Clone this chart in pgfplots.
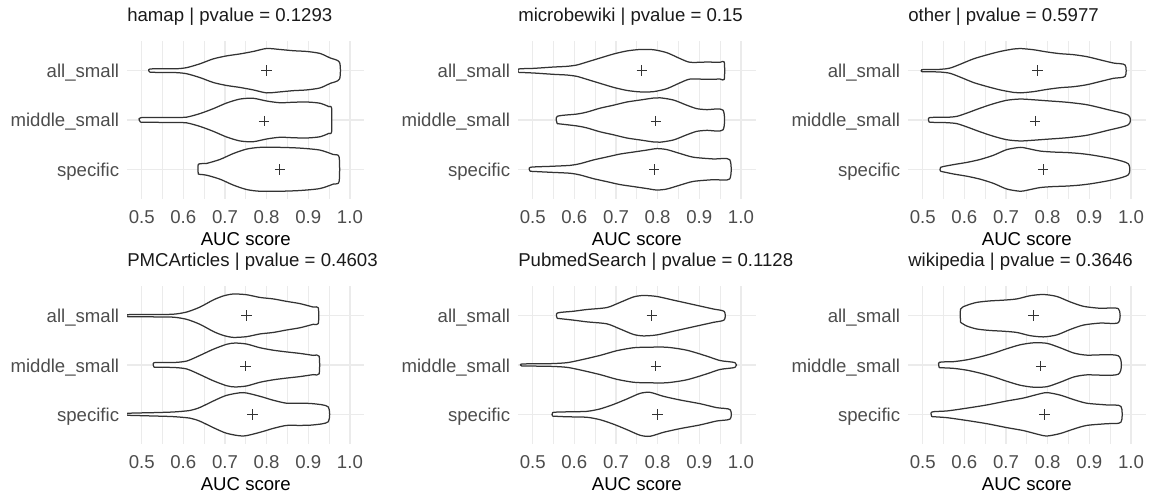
\documentclass[border=0pt]{standalone}
\usepackage{fontspec}
\setmainfont{Liberation Sans}
\usepackage{pgfplots}
\pgfplotsset{compat=1.18}
\usepackage{pgfplotstable}
\definecolor{gridc}{HTML}{EBEBEB}
\definecolor{tickc}{HTML}{4D4D4D}
\definecolor{vline}{HTML}{333333}
\definecolor{stripc}{HTML}{1A1A1A}
\newcommand\fs{\fontsize{18.6bp}{22bp}\selectfont}

% each violin: x, signed half-width (upper side forward, lower side backward, closed)
% ---------- hamap ----------
\pgfplotstableread[row sep=\\]{x w\\0.520 0.034\\0.580 0.038\\0.608 0.062\\0.640 0.140\\0.672 0.240\\0.704 0.300\\0.736 0.340\\0.768 0.390\\0.800 0.450\\0.832 0.430\\0.864 0.405\\0.896 0.390\\0.928 0.350\\0.952 0.260\\0.975 0.170\\0.975 -0.170\\0.952 -0.260\\0.928 -0.350\\0.896 -0.390\\0.864 -0.405\\0.832 -0.430\\0.800 -0.450\\0.768 -0.390\\0.736 -0.340\\0.704 -0.300\\0.672 -0.240\\0.640 -0.140\\0.608 -0.062\\0.580 -0.038\\0.520 -0.034\\0.520 0.034\\}\hA
\pgfplotstableread[row sep=\\]{x w\\0.498 0.047\\0.580 0.050\\0.608 0.058\\0.640 0.130\\0.672 0.230\\0.704 0.345\\0.736 0.425\\0.768 0.440\\0.800 0.385\\0.832 0.350\\0.864 0.360\\0.896 0.365\\0.928 0.340\\0.950 0.270\\0.956 0.245\\0.956 -0.245\\0.950 -0.270\\0.928 -0.340\\0.896 -0.365\\0.864 -0.360\\0.832 -0.350\\0.800 -0.385\\0.768 -0.440\\0.736 -0.425\\0.704 -0.345\\0.672 -0.230\\0.640 -0.130\\0.608 -0.058\\0.580 -0.050\\0.498 -0.047\\0.498 0.047\\}\hM
\pgfplotstableread[row sep=\\]{x w\\0.636 0.100\\0.656 0.120\\0.688 0.200\\0.720 0.320\\0.752 0.410\\0.784 0.445\\0.832 0.445\\0.880 0.430\\0.928 0.390\\0.960 0.300\\0.974 0.250\\0.974 -0.250\\0.960 -0.300\\0.928 -0.390\\0.880 -0.430\\0.832 -0.445\\0.784 -0.445\\0.752 -0.410\\0.720 -0.320\\0.688 -0.200\\0.656 -0.120\\0.636 -0.100\\0.636 0.100\\}\hS
% ---------- microbewiki ----------
\pgfplotstableread[row sep=\\]{x w\\0.466 0.034\\0.502 0.047\\0.550 0.074\\0.582 0.088\\0.606 0.115\\0.630 0.175\\0.662 0.257\\0.694 0.338\\0.726 0.400\\0.758 0.430\\0.790 0.425\\0.822 0.365\\0.854 0.245\\0.878 0.170\\0.918 0.175\\0.950 0.170\\0.960 0.175\\0.960 -0.175\\0.950 -0.170\\0.918 -0.175\\0.878 -0.170\\0.854 -0.245\\0.822 -0.365\\0.790 -0.425\\0.758 -0.430\\0.726 -0.400\\0.694 -0.338\\0.662 -0.257\\0.630 -0.175\\0.606 -0.115\\0.582 -0.088\\0.550 -0.074\\0.502 -0.047\\0.466 -0.034\\0.466 0.034\\}\mA
\pgfplotstableread[row sep=\\]{x w\\0.559 0.074\\0.606 0.120\\0.630 0.160\\0.662 0.240\\0.694 0.300\\0.726 0.365\\0.758 0.405\\0.790 0.445\\0.806 0.450\\0.838 0.405\\0.870 0.300\\0.894 0.230\\0.918 0.210\\0.957 0.200\\0.957 -0.200\\0.918 -0.210\\0.894 -0.230\\0.870 -0.300\\0.838 -0.405\\0.806 -0.450\\0.790 -0.445\\0.758 -0.405\\0.726 -0.365\\0.694 -0.300\\0.662 -0.240\\0.630 -0.160\\0.606 -0.120\\0.559 -0.074\\0.559 0.074\\}\mM
\pgfplotstableread[row sep=\\]{x w\\0.494 0.040\\0.542 0.060\\0.590 0.080\\0.614 0.115\\0.646 0.190\\0.678 0.250\\0.710 0.310\\0.742 0.350\\0.774 0.390\\0.798 0.420\\0.822 0.400\\0.854 0.320\\0.886 0.245\\0.934 0.210\\0.973 0.195\\0.973 -0.195\\0.934 -0.210\\0.886 -0.245\\0.854 -0.320\\0.822 -0.400\\0.798 -0.420\\0.774 -0.390\\0.742 -0.350\\0.710 -0.310\\0.678 -0.250\\0.646 -0.190\\0.614 -0.115\\0.590 -0.080\\0.542 -0.060\\0.494 -0.040\\0.494 0.040\\}\mS
% ---------- other ----------
\pgfplotstableread[row sep=\\]{x w\\0.498 0.020\\0.542 0.027\\0.566 0.054\\0.590 0.130\\0.622 0.240\\0.654 0.320\\0.686 0.390\\0.718 0.440\\0.734 0.450\\0.766 0.425\\0.798 0.380\\0.830 0.345\\0.862 0.325\\0.894 0.285\\0.926 0.220\\0.958 0.155\\0.986 0.115\\0.986 -0.115\\0.958 -0.155\\0.926 -0.220\\0.894 -0.285\\0.862 -0.325\\0.830 -0.345\\0.798 -0.380\\0.766 -0.425\\0.734 -0.450\\0.718 -0.440\\0.686 -0.390\\0.654 -0.320\\0.622 -0.240\\0.590 -0.130\\0.566 -0.054\\0.542 -0.027\\0.498 -0.020\\0.498 0.020\\}\oA
\pgfplotstableread[row sep=\\]{x w\\0.516 0.047\\0.558 0.054\\0.582 0.074\\0.606 0.140\\0.638 0.240\\0.670 0.330\\0.702 0.400\\0.734 0.425\\0.766 0.410\\0.798 0.390\\0.846 0.360\\0.894 0.310\\0.942 0.215\\0.994 0.095\\0.994 -0.095\\0.942 -0.215\\0.894 -0.310\\0.846 -0.360\\0.798 -0.390\\0.766 -0.410\\0.734 -0.425\\0.702 -0.400\\0.670 -0.330\\0.638 -0.240\\0.606 -0.140\\0.582 -0.074\\0.558 -0.054\\0.516 -0.047\\0.516 0.047\\}\oM
\pgfplotstableread[row sep=\\]{x w\\0.543 0.040\\0.574 0.095\\0.606 0.140\\0.638 0.200\\0.670 0.285\\0.702 0.400\\0.734 0.445\\0.750 0.425\\0.782 0.370\\0.814 0.350\\0.846 0.340\\0.878 0.320\\0.910 0.285\\0.958 0.210\\0.994 0.110\\0.994 -0.110\\0.958 -0.210\\0.910 -0.285\\0.878 -0.320\\0.846 -0.340\\0.814 -0.350\\0.782 -0.370\\0.750 -0.425\\0.734 -0.445\\0.702 -0.400\\0.670 -0.285\\0.638 -0.200\\0.606 -0.140\\0.574 -0.095\\0.543 -0.040\\0.543 0.040\\}\oS
% ---------- PMCArticles ----------
\pgfplotstableread[row sep=\\]{x w\\0.466 0.020\\0.528 0.024\\0.576 0.030\\0.608 0.074\\0.640 0.175\\0.672 0.320\\0.696 0.400\\0.720 0.440\\0.752 0.425\\0.784 0.370\\0.816 0.340\\0.848 0.290\\0.880 0.245\\0.912 0.175\\0.924 0.160\\0.924 -0.160\\0.912 -0.175\\0.880 -0.245\\0.848 -0.290\\0.816 -0.340\\0.784 -0.370\\0.752 -0.425\\0.720 -0.440\\0.696 -0.400\\0.672 -0.320\\0.640 -0.175\\0.608 -0.074\\0.576 -0.030\\0.528 -0.024\\0.466 -0.020\\0.466 0.020\\}\pA
\pgfplotstableread[row sep=\\]{x w\\0.530 0.047\\0.576 0.050\\0.608 0.080\\0.640 0.195\\0.672 0.320\\0.704 0.420\\0.724 0.445\\0.752 0.425\\0.784 0.350\\0.816 0.300\\0.848 0.265\\0.880 0.235\\0.912 0.195\\0.926 0.180\\0.926 -0.180\\0.912 -0.195\\0.880 -0.235\\0.848 -0.265\\0.816 -0.300\\0.784 -0.350\\0.752 -0.425\\0.724 -0.445\\0.704 -0.420\\0.672 -0.320\\0.640 -0.195\\0.608 -0.080\\0.576 -0.050\\0.530 -0.047\\0.530 0.047\\}\pM
\pgfplotstableread[row sep=\\]{x w\\0.466 0.020\\0.528 0.034\\0.576 0.047\\0.616 0.078\\0.640 0.140\\0.672 0.270\\0.704 0.385\\0.744 0.440\\0.784 0.365\\0.816 0.285\\0.848 0.225\\0.880 0.225\\0.912 0.215\\0.948 0.150\\0.948 -0.150\\0.912 -0.215\\0.880 -0.225\\0.848 -0.225\\0.816 -0.285\\0.784 -0.365\\0.744 -0.440\\0.704 -0.385\\0.672 -0.270\\0.640 -0.140\\0.616 -0.078\\0.576 -0.047\\0.528 -0.034\\0.466 -0.020\\0.466 0.020\\}\pS
% ---------- PubmedSearch ----------
\pgfplotstableread[row sep=\\]{x w\\0.559 0.054\\0.598 0.090\\0.630 0.125\\0.678 0.165\\0.710 0.270\\0.742 0.380\\0.766 0.410\\0.798 0.390\\0.838 0.315\\0.870 0.255\\0.902 0.195\\0.934 0.135\\0.960 0.085\\0.960 -0.085\\0.934 -0.135\\0.902 -0.195\\0.870 -0.255\\0.838 -0.315\\0.798 -0.390\\0.766 -0.410\\0.742 -0.380\\0.710 -0.270\\0.678 -0.165\\0.630 -0.125\\0.598 -0.090\\0.559 -0.054\\0.559 0.054\\}\uA
\pgfplotstableread[row sep=\\]{x w\\0.474 0.020\\0.542 0.027\\0.582 0.047\\0.614 0.100\\0.662 0.195\\0.702 0.290\\0.742 0.350\\0.774 0.360\\0.822 0.360\\0.870 0.300\\0.918 0.180\\0.950 0.090\\0.986 0.047\\0.986 -0.047\\0.950 -0.090\\0.918 -0.180\\0.870 -0.300\\0.822 -0.360\\0.774 -0.360\\0.742 -0.350\\0.702 -0.290\\0.662 -0.195\\0.614 -0.100\\0.582 -0.047\\0.542 -0.027\\0.474 -0.020\\0.474 0.020\\}\uM
\pgfplotstableread[row sep=\\]{x w\\0.548 0.037\\0.582 0.050\\0.630 0.060\\0.662 0.110\\0.694 0.200\\0.726 0.310\\0.758 0.425\\0.782 0.445\\0.814 0.365\\0.854 0.290\\0.902 0.215\\0.942 0.135\\0.974 0.095\\0.974 -0.095\\0.942 -0.135\\0.902 -0.215\\0.854 -0.290\\0.814 -0.365\\0.782 -0.445\\0.758 -0.425\\0.726 -0.310\\0.694 -0.200\\0.662 -0.110\\0.630 -0.060\\0.582 -0.050\\0.548 -0.037\\0.548 0.037\\}\uS
% ---------- wikipedia ----------
\pgfplotstableread[row sep=\\]{x w\\0.591 0.135\\0.606 0.210\\0.630 0.270\\0.662 0.300\\0.694 0.315\\0.726 0.340\\0.758 0.405\\0.790 0.430\\0.822 0.390\\0.854 0.280\\0.886 0.190\\0.926 0.150\\0.970 0.140\\0.970 -0.140\\0.926 -0.150\\0.886 -0.190\\0.854 -0.280\\0.822 -0.390\\0.790 -0.430\\0.758 -0.405\\0.726 -0.340\\0.694 -0.315\\0.662 -0.300\\0.630 -0.270\\0.606 -0.210\\0.591 -0.135\\0.591 0.135\\}\wA
\pgfplotstableread[row sep=\\]{x w\\0.540 0.054\\0.574 0.068\\0.606 0.105\\0.638 0.165\\0.670 0.240\\0.702 0.330\\0.734 0.410\\0.766 0.450\\0.798 0.440\\0.830 0.350\\0.862 0.245\\0.894 0.200\\0.970 0.185\\0.970 -0.185\\0.894 -0.200\\0.862 -0.245\\0.830 -0.350\\0.798 -0.440\\0.766 -0.450\\0.734 -0.410\\0.702 -0.330\\0.670 -0.240\\0.638 -0.165\\0.606 -0.105\\0.574 -0.068\\0.540 -0.054\\0.540 0.054\\}\wM
\pgfplotstableread[row sep=\\]{x w\\0.522 0.047\\0.558 0.068\\0.606 0.125\\0.654 0.190\\0.702 0.270\\0.742 0.330\\0.774 0.400\\0.798 0.440\\0.830 0.390\\0.862 0.300\\0.894 0.225\\0.942 0.190\\0.976 0.160\\0.976 -0.160\\0.942 -0.190\\0.894 -0.225\\0.862 -0.300\\0.830 -0.390\\0.798 -0.440\\0.774 -0.400\\0.742 -0.330\\0.702 -0.270\\0.654 -0.190\\0.606 -0.125\\0.558 -0.068\\0.522 -0.047\\0.522 0.047\\}\wS

\pgfplotsset{
  facet/.style={
    scale only axis, width=237.4bp, height=157.8bp,
    xmin=0.465, xmax=1.035, ymin=0.4, ymax=3.6, y dir=reverse,
    xtick={0.5,0.6,0.7,0.8,0.9,1.0},
    xticklabels={0.5,0.6,0.7,0.8,0.9,1.0},
    minor xtick={0.55,0.65,0.75,0.85,0.95},
    ytick={1,2,3}, yticklabels={all\_small,middle\_small,specific},
    axis line style={draw=none},
    major tick length=0pt, minor tick length=0pt,
    tick style={draw=none},
    xmajorgrids=true, xminorgrids=true, ymajorgrids=true,
    major grid style={gridc, line width=1.5bp},
    minor grid style={gridc, line width=0.75bp},
    tick label style={font=\fs, text=tickc},
    xticklabel style={anchor=base, yshift=-25bp, inner sep=0pt},
    yticklabel style={anchor=base east, xshift=-7.8bp, yshift=-7bp, inner sep=0pt},
    xlabel={AUC score},
    xlabel style={at={(axis description cs:0.5,0)}, anchor=base, yshift=-46.5bp, font=\fs, text=black, inner sep=0pt},
    title style={at={(axis description cs:0,1)}, anchor=base west, yshift=13.6bp, font=\fs, text=stripc, inner sep=0pt},
  },
  vio/.style={fill=white, draw=vline, line width=1.25bp, line join=round, smooth, tension=0.45},
  meanplot/.style={only marks, mark=+, mark size=5.2bp, mark options={line width=0.95bp, draw=vline}},
}

\begin{document}
\begin{tikzpicture}
\useasboundingbox (0,0) rectangle (1151bp,493bp);

\begin{axis}[facet, at={(127.1bp,294.1bp)}, anchor=south west, title={hamap | pvalue = 0.1293}]
\addplot[vio] table[x=x, y expr=1+\thisrow{w}] {\hA};
\addplot[vio] table[x=x, y expr=2+\thisrow{w}] {\hM};
\addplot[vio] table[x=x, y expr=3+\thisrow{w}] {\hS};
\addplot[meanplot] coordinates {(0.800,1) (0.794,2.02) (0.832,3)};
\end{axis}

\begin{axis}[facet, at={(518.1bp,294.1bp)}, anchor=south west, title={microbewiki | pvalue = 0.15}]
\addplot[vio] table[x=x, y expr=1+\thisrow{w}] {\mA};
\addplot[vio] table[x=x, y expr=2+\thisrow{w}] {\mM};
\addplot[vio] table[x=x, y expr=3+\thisrow{w}] {\mS};
\addplot[meanplot] coordinates {(0.762,1) (0.796,2.02) (0.792,3)};
\end{axis}

\begin{axis}[facet, at={(908.1bp,294.1bp)}, anchor=south west, title={other | pvalue = 0.5977}]
\addplot[vio] table[x=x, y expr=1+\thisrow{w}] {\oA};
\addplot[vio] table[x=x, y expr=2+\thisrow{w}] {\oM};
\addplot[vio] table[x=x, y expr=3+\thisrow{w}] {\oS};
\addplot[meanplot] coordinates {(0.776,1) (0.770,2.02) (0.789,3)};
\end{axis}

\begin{axis}[facet, at={(127.1bp,49.1bp)}, anchor=south west, title={PMCArticles | pvalue = 0.4603}]
\addplot[vio] table[x=x, y expr=1+\thisrow{w}] {\pA};
\addplot[vio] table[x=x, y expr=2+\thisrow{w}] {\pM};
\addplot[vio] table[x=x, y expr=3+\thisrow{w}] {\pS};
\addplot[meanplot] coordinates {(0.752,1) (0.749,2.02) (0.766,3)};
\end{axis}

\begin{axis}[facet, at={(518.1bp,49.1bp)}, anchor=south west, title={PubmedSearch | pvalue = 0.1128}]
\addplot[vio] table[x=x, y expr=1+\thisrow{w}] {\uA};
\addplot[vio] table[x=x, y expr=2+\thisrow{w}] {\uM};
\addplot[vio] table[x=x, y expr=3+\thisrow{w}] {\uS};
\addplot[meanplot] coordinates {(0.786,1) (0.796,2.02) (0.800,3)};
\end{axis}

\begin{axis}[facet, at={(908.1bp,49.1bp)}, anchor=south west, title={wikipedia | pvalue = 0.3646}]
\addplot[vio] table[x=x, y expr=1+\thisrow{w}] {\wA};
\addplot[vio] table[x=x, y expr=2+\thisrow{w}] {\wM};
\addplot[vio] table[x=x, y expr=3+\thisrow{w}] {\wS};
\addplot[meanplot] coordinates {(0.766,1) (0.784,2.02) (0.792,3)};
\end{axis}
\end{tikzpicture}
\end{document}
